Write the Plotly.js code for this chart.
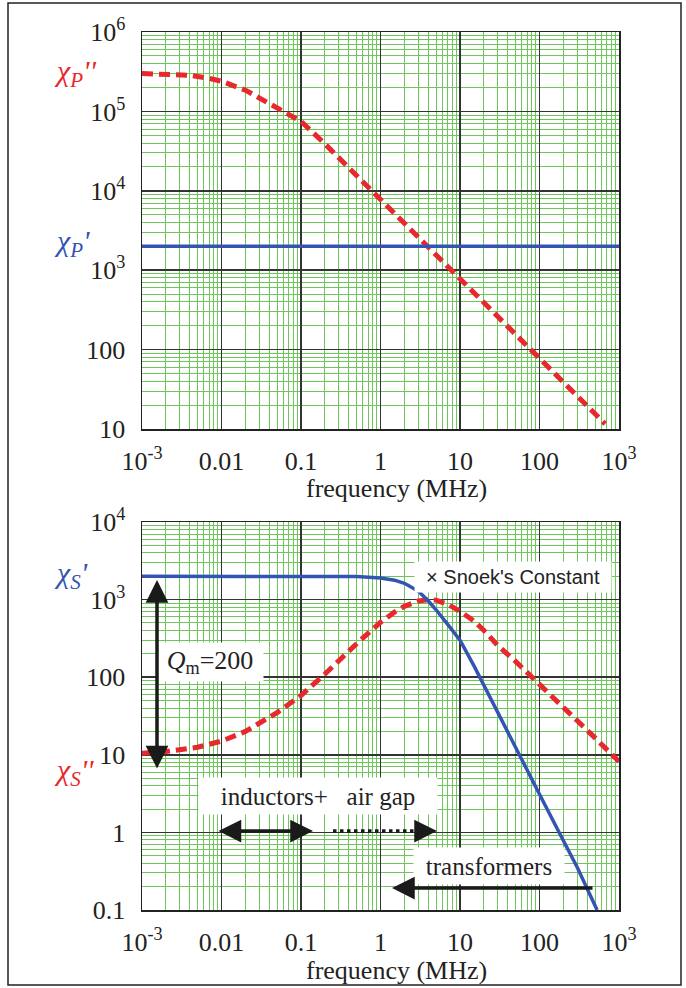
<!DOCTYPE html>
<html><head><meta charset="utf-8">
<script src="https://cdn.plot.ly/plotly-3.0.1.min.js"></script>
<style>html,body{margin:0;padding:0;background:#fff}#chart{width:686px;height:988px}</style>
</head><body><div id="chart"></div>
<script>
// ---------- data ----------
const freqPpp = [0.001,0.002,0.004,0.007,0.01,0.02,0.04,0.07,0.1,0.2,0.4,0.7,1,2,4,7,10,20,40,70,100,200,400,670];
const chiPpp  = [3.0e5,2.97e5,2.85e5,2.6e5,2.4e5,1.85e5,1.25e5,9.2e4,7.5e4,3.9e4,1.95e4,1.12e4,7.8e3,3.9e3,1.95e3,1.1e3,770,385,195,111,78,39,19.5,11.6];
const freqPp  = [0.001,1000];
const chiPp   = [2000,2000];
const freqSp  = [0.001,0.01,0.1,0.5,1,1.5,2,3,4,5,7,10,15,20,30,50,100,200,300,530];
const chiSp   = [2000,2000,2000,1980,1900,1780,1620,1280,960,740,480,300,140,78,35,12.5,3.1,0.78,0.35,0.1];
const freqSpp = [0.001,0.002,0.005,0.01,0.02,0.05,0.1,0.2,0.5,1,1.5,2,3,4,5,7,10,15,20,30,50,100,200,500,1000];
const chiSpp  = [10.5,11,12.5,15,20,35,58,110,270,510,690,820,960,1000,985,870,705,530,400,255,160,82,41,16.5,8.2];
const xTickVals = [0.001,0.01,0.1,1,10,100,1000];
const xTickText = ['10<sup>-3</sup>','0.01','0.1','1','10','100','10<sup>3</sup>'];
const yTopVals = [10,100,1000,1e4,1e5,1e6];
const yTopText = ['10','100','10<sup>3</sup>','10<sup>4</sup>','10<sup>5</sup>','10<sup>6</sup>'];
const yBotVals = [0.1,1,10,100,1000,1e4];
const yBotText = ['0.1','1','10','100','10<sup>3</sup>','10<sup>4</sup>'];

// ---------- styling ----------
const W = 686, H = 988;
const px = x => x / W, py = y => 1 - y / H;
const serif = 'Liberation Serif, Times New Roman, serif';
const sans = 'Liberation Sans, Arial, sans-serif';
const RED = '#e8282c', BLUE = '#3454b4', INK = '#1a1a1a';

function minorVals(lo, hi) {
  const v = [];
  for (let d = lo; d < hi; d++) for (let k = 2; k <= 9; k++) v.push(k * Math.pow(10, d));
  return v;
}
function logAxis(domain, range, vals, text, anchor, standoff) {
  return {
    type: 'log', range, domain, anchor, tickmode: 'array', tickvals: vals, ticktext: text,
    ticks: '', showline: true, mirror: true, linecolor: '#222', linewidth: 1.5,
    showgrid: true, gridcolor: '#333', gridwidth: 1.5, zeroline: false,
    tickfont: {family: serif, size: 26, color: '#222'}, ticklabelstandoff: standoff,
    minor: {tickmode: 'array', tickvals: minorVals(range[0], range[1]), showgrid: true,
            gridcolor: '#6cc65a', gridwidth: 1, ticks: ''},
    fixedrange: true
  };
}

const traces = [
  {x: freqPpp, y: chiPpp, xaxis: 'x', yaxis: 'y', mode: 'lines',
   line: {color: RED, width: 5, dash: '11px,6px'}},
  {x: freqPp, y: chiPp, xaxis: 'x', yaxis: 'y', mode: 'lines',
   line: {color: BLUE, width: 3.5}},
  {x: freqSpp, y: chiSpp, xaxis: 'x2', yaxis: 'y2', mode: 'lines',
   line: {color: RED, width: 5, dash: '11px,6px'}},
  {x: freqSp, y: chiSp, xaxis: 'x2', yaxis: 'y2', mode: 'lines',
   line: {color: BLUE, width: 3.5}}
];

function label(x, y, text, font, extra) {
  return Object.assign({xref: 'paper', yref: 'paper', x: px(x), y: py(y), text, showarrow: false, font,
                        xanchor: 'center', yanchor: 'middle'}, extra || {});
}
function arrow(x, y, ax, ay, both) {
  return {xref: 'paper', yref: 'paper', x: px(x), y: py(y), ax, ay, axref: 'pixel', ayref: 'pixel',
          text: '', showarrow: true, arrowhead: 2, arrowsize: 1.3, arrowwidth: 3.5, arrowcolor: INK,
          arrowside: both ? 'end+start' : 'end', startarrowhead: 2, startarrowsize: 1.3};
}

const annotations = [
  label(52, 73, "<i>χ<sub>P</sub>''</i>", {family: serif, size: 30, color: RED}, {xanchor: 'left'}),
  label(52, 243, "<i>χ<sub>P</sub>'</i>", {family: serif, size: 30, color: BLUE}, {xanchor: 'left'}),
  label(52, 575, "<i>χ<sub>S</sub>'</i>", {family: serif, size: 30, color: BLUE}, {xanchor: 'left'}),
  label(52, 772, "<i>χ<sub>S</sub>''</i>", {family: serif, size: 30, color: RED}, {xanchor: 'left'}),
  label(396, 489, 'frequency (MHz)', {family: serif, size: 26, color: '#222'}),
  label(396, 970, 'frequency (MHz)', {family: serif, size: 26, color: '#222'}),
  label(513, 577, "×\u00a0Snoek's Constant", {family: sans, size: 20, color: '#222'},
        {bgcolor: '#fff', width: 194, height: 28}),
  label(210, 662, '<i>Q</i><sub>m</sub>=200', {family: serif, size: 26, color: '#222'},
        {bgcolor: '#fff', width: 104, height: 36}),
  label(318, 796, 'inductors+\u00a0\u00a0\u00a0air gap', {family: serif, size: 25, color: '#222'},
        {bgcolor: '#fff', width: 236, height: 34}),
  label(489, 866, 'transformers', {family: serif, size: 25, color: '#222'},
        {bgcolor: '#fff', width: 148, height: 34}),
  arrow(157, 580, 0, 190, true),
  arrow(313, 831, -96, 0, true),
  arrow(437, 831, -22, 0, false),
  arrow(392, 888, 202, 0, false)
];

const shapes = [
  {type: 'rect', xref: 'paper', yref: 'paper', x0: px(8), x1: px(681), y0: py(985), y1: py(3),
   line: {color: '#222', width: 1.5}},
  {type: 'line', xref: 'paper', yref: 'paper', x0: px(333), x1: px(418), y0: py(831), y1: py(831),
   line: {color: INK, width: 3.5, dash: 'dot'}}
];

const layout = {
  width: W, height: H, margin: {l: 0, r: 0, t: 0, b: 0},
  paper_bgcolor: '#fff', plot_bgcolor: '#fff', showlegend: false,
  xaxis: logAxis([px(142), px(619)], [-3, 3], xTickVals, xTickText, 'y', 8),
  yaxis: logAxis([py(429), py(32)], [1, 6], yTopVals, yTopText, 'x', 10),
  xaxis2: logAxis([px(142), px(619)], [-3, 3], xTickVals, xTickText, 'y2', 8),
  yaxis2: logAxis([py(910), py(522)], [-1, 4], yBotVals, yBotText, 'x2', 10),
  annotations, shapes
};

Plotly.newPlot('chart', traces, layout, {staticPlot: true, displayModeBar: false});
</script>
</body></html>
